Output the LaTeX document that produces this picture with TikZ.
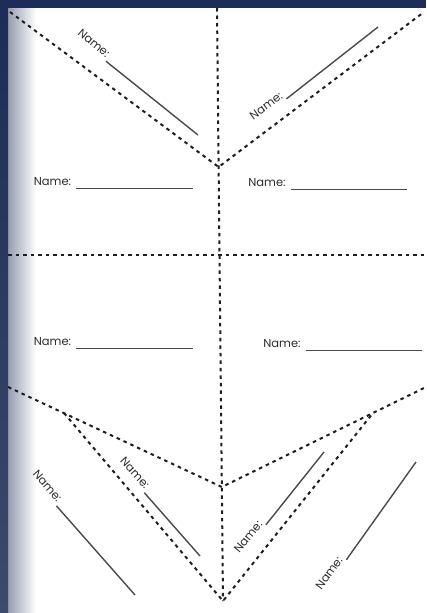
\documentclass[tikz,border=0pt]{standalone}
\usepackage{fontspec}
\setmainfont{Poppins}
\usetikzlibrary{positioning,calc}
\definecolor{Frame}{HTML}{1D2C58}
\definecolor{FrameSide}{HTML}{3E4A6A}
\definecolor{Haze}{HTML}{959DB0}
\definecolor{Cut}{HTML}{1E1E1E}
\definecolor{Pen}{HTML}{4A4A4A}
\definecolor{Ink}{HTML}{2E2E2E}

\begin{document}
\begin{tikzpicture}[x=1pt, y=-1pt,
  cut/.style={draw=Cut, line width=2pt, dash pattern=on 3.5pt off 4pt},
  rule/.style={draw=Pen, line width=1.4pt},
  tag/.style={font=\fontsize{11.5}{13}\selectfont, text=Ink, inner sep=2pt}]
  \useasboundingbox (0,0) rectangle (426,613);
  \fill[Frame] (0,0) rectangle (426,613);
  \fill[white] (8,8) rectangle (426,613);
  \shade[left color=Haze, right color=white] (8,8) rectangle (36,613);
  \shade[top color=Frame, bottom color=FrameSide] (0,8) rectangle (8,613);

  \coordinate (tl) at (10,12);
  \coordinate (tr) at (424,12);
  \coordinate (top) at (217,8);
  \coordinate (uv) at (218.6,167);
  \coordinate (hl) at (8,255);
  \coordinate (hr) at (426,255);
  \coordinate (ll) at (8,387);
  \coordinate (lv) at (221.8,487);
  \coordinate (lr) at (426,387);
  \coordinate (li) at (64,413);
  \coordinate (ri) at (373,413);
  \coordinate (bot) at (223,601);

  \draw[cut] (top) -- (bot);
  \draw[cut] (tl) -- (uv) -- (tr);
  \draw[cut] (hl) -- (hr);
  \draw[cut] (ll) -- (lv) -- (lr);
  \draw[cut] (li) -- (bot) -- (ri);

  \node[tag, rotate=-40] (nA) at (94,43) {Name:};
  \coordinate (eA) at (198,135);
  \draw[rule] (nA.south east) -- (eA);
  \node[tag, rotate=36] (nB) at (266,106) {Name:};
  \coordinate (eB) at (378,27);
  \draw[rule] (nB.south east) -- (eB);

  \node[tag] (nC) at (52.5,182) {Name:};
  \coordinate (eC) at (193,189);
  \draw[rule] ([xshift=3pt]nC.south east) -- (nC.south east -| eC);
  \node[tag] (nD) at (267,183) {Name:};
  \coordinate (eD) at (407,191);
  \draw[rule] ([xshift=3pt]nD.south east) -- (nD.south east -| eD);

  \node[tag] (nE) at (52.5,342) {Name:};
  \coordinate (eE) at (193,347);
  \draw[rule] ([xshift=3pt]nE.south east) -- (nE.south east -| eE);
  \node[tag] (nF) at (282,344) {Name:};
  \coordinate (eF) at (422,350);
  \draw[rule] ([xshift=3pt]nF.south east) -- (nF.south east -| eF);

  \node[tag, rotate=-49] (nG) at (47.5,486) {Name:};
  \coordinate (eG) at (135,595);
  \draw[rule] (nG.south east) -- (eG);
  \node[tag, rotate=-48] (nH) at (135,473) {Name:};
  \coordinate (eH) at (200,556);
  \draw[rule] (nH.south east) -- (eH);
  \node[tag, rotate=51] (nI) at (248,537) {Name:};
  \coordinate (eI) at (324,452);
  \draw[rule] (nI.south east) -- (eI);
  \node[tag, rotate=54] (nJ) at (329,573) {Name:};
  \coordinate (eJ) at (416,462);
  \draw[rule] (nJ.south east) -- (eJ);
\end{tikzpicture}
\end{document}
